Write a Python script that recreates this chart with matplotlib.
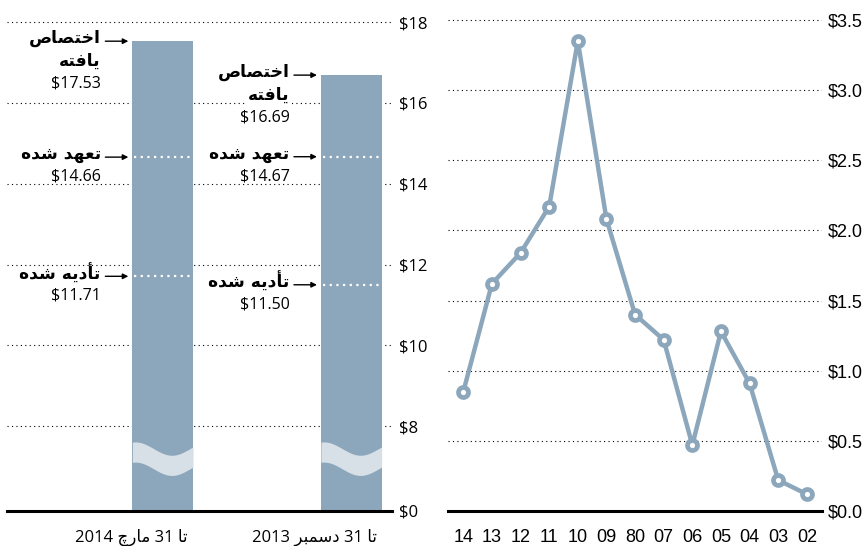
import numpy as np
import matplotlib
matplotlib.use("Agg")
import matplotlib.pyplot as plt

# left panel: funding totals (billions $)
bar_labels = ['تا 31 مارچ 2014', 'تا 31 دسمبر 2013']
allocated = [17.53, 16.69]
committed = [14.66, 14.67]
disbursed = [11.71, 11.50]
stage_labels = ['اختصاص\nیافته', 'تعهد شده', 'تأدیه شده']
left_ticks = [0, 8, 10, 12, 14, 16, 18]

# right panel: yearly values
years = ['14', '13', '12', '11', '10', '09', '80', '07', '06', '05', '04', '03', '02']
yearly = [0.85, 1.62, 1.84, 2.17, 3.35, 2.08, 1.40, 1.22, 0.47, 1.28, 0.91, 0.22, 0.12]
right_ticks = [0.0, 0.5, 1.0, 1.5, 2.0, 2.5, 3.0, 3.5]

BLUE = '#8ca7bb'
WAVE = '#d7dfe7'
LATIN = ['Open Sans', 'DejaVu Sans']

# --- minimal arabic/persian shaping (matplotlib has no RTL layout) ---
FORMS = {
    '\u0627': ('\uFE8D', '\uFE8E', None, None),
    '\u0623': ('\uFE83', '\uFE84', None, None),
    '\u062F': ('\uFEA9', '\uFEAA', None, None),
    '\u0631': ('\uFEAD', '\uFEAE', None, None),
    '\u0628': ('\uFE8F', '\uFE90', '\uFE91', '\uFE92'),
    '\u062A': ('\uFE95', '\uFE96', '\uFE97', '\uFE98'),
    '\u062E': ('\uFEA5', '\uFEA6', '\uFEA7', '\uFEA8'),
    '\u0633': ('\uFEB1', '\uFEB2', '\uFEB3', '\uFEB4'),
    '\u0634': ('\uFEB5', '\uFEB6', '\uFEB7', '\uFEB8'),
    '\u0635': ('\uFEB9', '\uFEBA', '\uFEBB', '\uFEBC'),
    '\u0639': ('\uFEC9', '\uFECA', '\uFECB', '\uFECC'),
    '\u0641': ('\uFED1', '\uFED2', '\uFED3', '\uFED4'),
    '\u0645': ('\uFEE1', '\uFEE2', '\uFEE3', '\uFEE4'),
    '\u0647': ('\uFEE9', '\uFEEA', '\uFEEB', '\uFEEC'),
    '\u06CC': ('\uFBFC', '\uFBFD', '\uFBFE', '\uFBFF'),
    '\u0686': ('\uFB7A', '\uFB7B', '\uFB7C', '\uFB7D'),
}


def shape(word):
    out = []
    for i, c in enumerate(word):
        if c not in FORMS:
            out.append(c)
            continue
        f = FORMS[c]
        prev = i > 0 and word[i-1] in FORMS and FORMS[word[i-1]][2] is not None
        nxt = i < len(word)-1 and word[i+1] in FORMS and f[2] is not None
        if prev and nxt:
            out.append(f[3])
        elif prev:
            out.append(f[1])
        elif nxt:
            out.append(f[2])
        else:
            out.append(f[0])
    return ''.join(out)


def visual(text):
    lines = []
    for line in text.split('\n'):
        toks = []
        for t in line.split(' '):
            if any(ch in FORMS for ch in t):
                toks.append(shape(t)[::-1])
            else:
                toks.append(t)
        lines.append(' '.join(reversed(toks)))
    return lines


def ty(v):
    # broken axis: 0..8 squeezed, above 8 linear
    return v - 5.9 if v >= 8 else v * 2.1 / 8


W, H = 863, 546
fig = plt.figure(figsize=(W/100, H/100), dpi=100)


def px_axes(x0, x1, ybase, ytop):
    return [x0/W, (H-ybase)/H, (x1-x0)/W, (ybase-ytop)/H]


# ---------------- left panel ----------------
ax1 = fig.add_axes(px_axes(7, 392, 511, 2))
ax1.set_xlim(-0.8256, 1.2158)
ax1.set_ylim(0, 12.6)
px = (1.2158 + 0.8256) / 385.0
BAR_W = 0.322
pos = np.arange(len(allocated))

ax1.bar(pos, [ty(v) for v in allocated], width=BAR_W, color=BLUE, zorder=2)
ax1.set_axisbelow(True)
for s in ax1.spines.values():
    s.set_visible(False)
ax1.set_yticks([ty(v) for v in left_ticks])
ax1.set_yticklabels(['$%d' % v for v in left_ticks], family=LATIN, fontsize=12)
ax1.yaxis.tick_right()
ax1.tick_params(axis='y', length=0, pad=5)
ax1.set_xticks([])
ax1.grid(axis='y', color='black', ls=(0, (1, 3)), lw=0.8)
ax1.axhline(0, color='black', lw=2.2, zorder=5, clip_on=False)

# break wave on each bar
t = np.linspace(0, 1, 60)
wave_top = 1.545 + 0.165*np.cos(2*np.pi*(t-0.05)/1.2)
for p in pos:
    xs = p - BAR_W/2 + t*BAR_W
    ax1.fill_between(xs, wave_top - 0.5, wave_top, color=WAVE, lw=0, zorder=3)

# white dotted stage lines inside bars
for p in pos:
    ax1.hlines([ty(committed[p]), ty(disbursed[p])], p - BAR_W/2 + 2*px, p + BAR_W/2,
               colors='white', linestyles=(0, (1, 2)), lw=1.6, zorder=4)

# stage annotations
for p in pos:
    left = p - BAR_W/2
    stages = [allocated[p], committed[p], disbursed[p]]
    for k, (lab, v) in enumerate(zip(stage_labels, stages)):
        y = ty(v)
        ax1.annotate('', xy=(left - 4*px, y), xytext=(left - 27*px, y),
                     arrowprops=dict(arrowstyle='-|>', color='black', lw=1.0,
                                     mutation_scale=8, shrinkA=0, shrinkB=0),
                     zorder=6)
        lines = visual(lab) + ['$%.2f' % v]
        for j, line in enumerate(lines):
            bold = j < len(lines) - 1
            kw = {}
            if p == 1 and k == 0 and bold:
                kw['bbox'] = dict(boxstyle='square,pad=0.15', fc='white', ec='none')
            ax1.annotate(line, xy=(left - 31.5*px, y), xytext=(0, 2.2 - 16.2*j),
                         textcoords='offset points', ha='right', va='center',
                         fontsize=12.3 if bold else 11.5,
                         fontweight='bold' if bold else 'normal',
                         family=['DejaVu Sans'] if bold else LATIN,
                         zorder=6, **kw)

for p, lab in zip(pos, bar_labels):
    ax1.text(p + BAR_W/2 - 5*px, -0.64, visual(lab)[0], ha='right', va='center',
             family=LATIN, fontsize=12, clip_on=False)

# ---------------- right panel ----------------
ax2 = fig.add_axes(px_axes(448, 822, 511, 2))
ax2.set_xlim(-0.535, 12.53)
ax2.set_ylim(0, 3.628)
for s in ax2.spines.values():
    s.set_visible(False)
x = np.arange(len(years))
ax2.plot(x, yearly, color=BLUE, lw=3.2, marker='o', ms=7.2, mfc='white',
         mec=BLUE, mew=3.4, zorder=3)
ax2.set_xticks(x)
ax2.set_xticklabels(years, family=['Liberation Sans'], fontsize=13)
ax2.set_yticks(right_ticks)
ax2.set_yticklabels(['$%.1f' % v for v in right_ticks], family=['Liberation Sans'], fontsize=13)
ax2.yaxis.tick_right()
ax2.tick_params(axis='y', length=0, pad=4)
ax2.tick_params(axis='x', length=0, pad=13)
ax2.grid(axis='y', color='black', ls=(0, (1, 3)), lw=0.8)
ax2.set_axisbelow(True)
ax2.axhline(0, color='black', lw=2.2, zorder=5, clip_on=False)

fig.savefig('out.png', dpi=100)
